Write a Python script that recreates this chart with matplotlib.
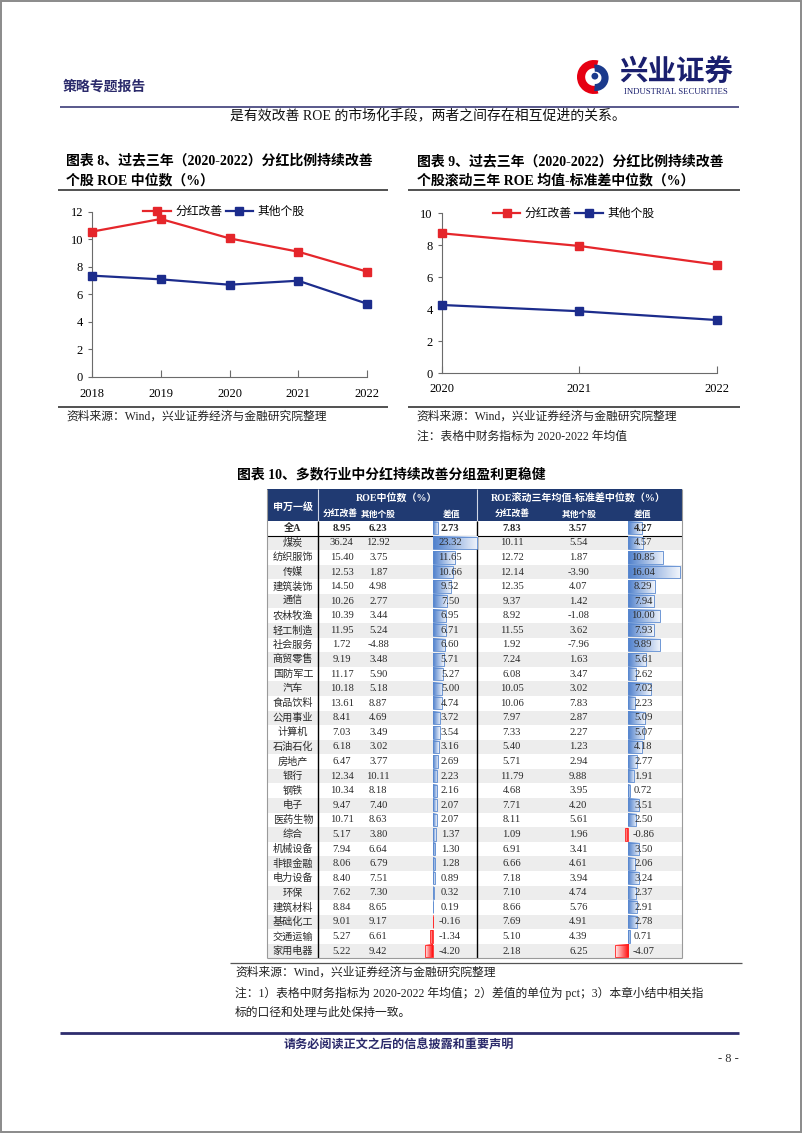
import matplotlib.pyplot as plt
import matplotlib.transforms as mtransforms
from matplotlib.colors import LinearSegmentedColormap
from matplotlib.patches import Rectangle, Wedge, Circle
import numpy as np

plt.rcParams['font.family'] = ['Liberation Serif', 'Noto Sans CJK SC', 'DejaVu Sans']

# ---- data ----
years8 = [2018, 2019, 2020, 2021, 2022]
div8 = [10.55, 11.47, 10.06, 9.09, 7.64]
oth8 = [7.35, 7.08, 6.69, 6.98, 5.31]

years9 = [2020, 2021, 2022]
div9 = [8.75, 7.96, 6.79]
oth9 = [4.27, 3.88, 3.33]

series_names = ['分红改善', '其他个股']

industries = ['全A', '煤炭', '纺织服饰', '传媒', '建筑装饰', '通信', '农林牧渔', '轻工制造',
              '社会服务', '商贸零售', '国防军工', '汽车', '食品饮料', '公用事业', '计算机',
              '石油石化', '房地产', '银行', '钢铁', '电子', '医药生物', '综合', '机械设备',
              '非银金融', '电力设备', '环保', '建筑材料', '基础化工', '交通运输', '家用电器']
roe_div = [8.95, 36.24, 15.40, 12.53, 14.50, 10.26, 10.39, 11.95, 1.72, 9.19, 11.17, 10.18,
           13.61, 8.41, 7.03, 6.18, 6.47, 12.34, 10.34, 9.47, 10.71, 5.17, 7.94, 8.06, 8.40,
           7.62, 8.84, 9.01, 5.27, 5.22]
roe_oth = [6.23, 12.92, 3.75, 1.87, 4.98, 2.77, 3.44, 5.24, -4.88, 3.48, 5.90, 5.18, 8.87,
           4.69, 3.49, 3.02, 3.77, 10.11, 8.18, 7.40, 8.63, 3.80, 6.64, 6.79, 7.51, 7.30,
           8.65, 9.17, 6.61, 9.42]
roe_diff = [2.73, 23.32, 11.65, 10.66, 9.52, 7.50, 6.95, 6.71, 6.60, 5.71, 5.27, 5.00, 4.74,
            3.72, 3.54, 3.16, 2.69, 2.23, 2.16, 2.07, 2.07, 1.37, 1.30, 1.28, 0.89, 0.32,
            0.19, -0.16, -1.34, -4.20]
stab_div = [7.83, 10.11, 12.72, 12.14, 12.35, 9.37, 8.92, 11.55, 1.92, 7.24, 6.08, 10.05,
            10.06, 7.97, 7.33, 5.40, 5.71, 11.79, 4.68, 7.71, 8.11, 1.09, 6.91, 6.66, 7.18,
            7.10, 8.66, 7.69, 5.10, 2.18]
stab_oth = [3.57, 5.54, 1.87, -3.90, 4.07, 1.42, -1.08, 3.62, -7.96, 1.63, 3.47, 3.02, 7.83,
            2.87, 2.27, 1.23, 2.94, 9.88, 3.95, 4.20, 5.61, 1.96, 3.41, 4.61, 3.94, 4.74,
            5.76, 4.91, 4.39, 6.25]
stab_diff = [4.27, 4.57, 10.85, 16.04, 8.29, 7.94, 10.00, 7.93, 9.89, 5.61, 2.62, 7.02, 2.23,
             5.09, 5.07, 4.18, 2.77, 1.91, 0.72, 3.51, 2.50, -0.86, 3.50, 2.06, 3.24, 2.37,
             2.91, 2.78, 0.71, -4.07]

# ---- styles ----
RED = '#E5262B'
BLUE = '#1C2C8C'
NAVY = '#203A72'
INK = '#2B2A6B'
AXC = '#6b6b6b'
TXT = '#2a2a2a'

W, H = 802, 1133
fig = plt.figure(figsize=(W / 100, H / 100), dpi=100)

# page axes in pixel coordinates
page = fig.add_axes([0, 0, 1, 1])
page.set_xlim(0, W)
page.set_ylim(H, 0)
page.axis('off')


def px_axes(x0, y0, x1, y1):
    return fig.add_axes([x0 / W, 1 - y1 / H, (x1 - x0) / W, (y1 - y0) / H])


def hline(y, x0, x1, color='#333333', lw=1.0):
    page.plot([x0, x1], [y, y], color=color, lw=lw, solid_capstyle='butt')


def vline(x, y0, y1, color='k', lw=1.0):
    page.plot([x, x], [y0, y1], color=color, lw=lw, solid_capstyle='butt')


# page border
page.add_patch(Rectangle((0.8, 0.8), W - 1.6, H - 1.6, fill=False, ec='#8a8a8a', lw=1.4))

# ---- header ----
page.text(63, 87, '策略专题报告', fontsize=10, fontweight='bold', color=INK, va='center')
logo = px_axes(577, 60, 611, 94)
logo.set_xlim(-1, 1)
logo.set_ylim(-1, 1)
logo.set_aspect('equal')
logo.axis('off')
logo.add_patch(Wedge((0, 0), 1.0, 75, 285, width=0.48, fc='#E60012', ec='none'))
logo.add_patch(Wedge((0.08, -0.05), 0.78, -95, 95, width=0.42, fc='#1B3A8C', ec='none'))
logo.add_patch(Circle((0.05, 0.05), 0.2, fc='#1B3A8C', ec='none'))
page.text(676, 72, '兴业证券', fontsize=20.5, fontweight='bold', color='#1A1F6E',
          ha='center', va='center', family=['Noto Sans CJK SC'])
page.text(676, 92, 'INDUSTRIAL SECURITIES', fontsize=6.3, color='#1A1F6E',
          ha='center', va='center')
hline(106.7, 60, 739, color='#3C3C78', lw=1.2)
page.text(428, 116, '是有效改善 ROE 的市场化手段，两者之间存在相互促进的关系。',
          fontsize=10, ha='center', va='center', color='#111111')


# ---- line charts ----
def line_chart(box, years, div, oth, ymax, xpad):
    ax = px_axes(*box)
    ax.patch.set_alpha(0)
    ax.plot(years, div, color=RED, lw=1.6, marker='s', ms=5.5, label=series_names[0],
            clip_on=False, zorder=3)
    ax.plot(years, oth, color=BLUE, lw=1.6, marker='s', ms=5.5, label=series_names[1],
            clip_on=False, zorder=3)
    ax.set_xlim(years[0], years[-1])
    ax.set_ylim(0, ymax)
    ax.set_xticks(years)
    ax.set_yticks(range(0, ymax + 1, 2))
    for s in ['top', 'right']:
        ax.spines[s].set_visible(False)
    for s in ['left', 'bottom']:
        ax.spines[s].set_color(AXC)
        ax.spines[s].set_linewidth(0.8)
    ax.tick_params(axis='x', direction='in', length=5, pad=xpad, labelsize=9, color=AXC)
    ax.tick_params(axis='y', direction='out', length=3, pad=3.5, labelsize=9, color=AXC)
    ax.legend(loc='center', bbox_to_anchor=(0.48, 1.0), ncol=2, frameon=False,
              handlelength=2.3, handletextpad=0.4, columnspacing=0.3,
              prop={'family': ['Noto Sans CJK SC'], 'size': 8.5}, borderaxespad=0)
    return ax


line_chart((92, 211.7, 367, 376.7), years8, div8, oth8, 12, 8)
line_chart((441.7, 213.3, 716.7, 373.3), years9, div9, oth9, 10, 7)

# chart titles and notes
page.text(66, 161, '图表 8、过去三年（2020-2022）分红比例持续改善', fontsize=10,
          fontweight='bold', va='center')
page.text(66, 180, '个股 ROE 中位数（%）', fontsize=10, fontweight='bold', va='center')
hline(189.5, 58, 388, lw=1.2)
hline(406.7, 58, 388, lw=1.2)
page.text(66, 416.5, '资料来源：Wind，兴业证券经济与金融研究院整理', fontsize=8.5,
          va='center', color='#222222')

page.text(416.7, 161.5, '图表 9、过去三年（2020-2022）分红比例持续改善', fontsize=10,
          fontweight='bold', va='center')
page.text(416.7, 180, '个股滚动三年 ROE 均值-标准差中位数（%）', fontsize=10,
          fontweight='bold', va='center')
hline(190, 408, 740, lw=1.2)
hline(406.7, 408, 740, lw=1.2)
page.text(416.7, 416.5, '资料来源：Wind，兴业证券经济与金融研究院整理', fontsize=8.5,
          va='center', color='#222222')
page.text(416.7, 437, '注：表格中财务指标为 2020-2022 年均值', fontsize=8.5,
          va='center', color='#222222')

# ---- table ----
page.text(237, 475, '图表 10、多数行业中分红持续改善分组盈利更稳健', fontsize=10,
          fontweight='bold', va='center')

TL, TR = 267, 682
HT, HB = 489, 521
ROW = 14.58
n = len(industries)
TB = HB + n * ROW

page.add_patch(Rectangle((TL, HT), TR - TL, HB - HT, fc=NAVY, ec='none'))
for i in range(n):
    if i % 2 == 1:
        page.add_patch(Rectangle((TL, HB + i * ROW), TR - TL, ROW, fc='#EDEDED', ec='none'))

vline(318.3, HT, HB, color='#cfd6e6', lw=0.8)
vline(477.3, HT, HB, color='#cfd6e6', lw=0.8)
vline(318.3, HB, TB, lw=1.0)
vline(477.3, HB, TB, lw=1.0)
hline(HB + ROW, TL, TR, color='k', lw=0.8)
vline(TL, HT, TB, color='#9a9a9a', lw=0.8)
vline(TR, HT, TB, color='#9a9a9a', lw=0.8)
hline(TB, TL, TR, color='#9a9a9a', lw=0.8)

hdr = dict(color='white', fontweight='bold', ha='center', va='center')
page.text(293, 506.7, '申万一级', fontsize=7.2, **hdr)
page.text(397, 499, 'ROE中位数（%）', fontsize=7.2, **hdr)
page.text(578, 499, 'ROE滚动三年均值-标准差中位数（%）', fontsize=7.2, **hdr)
sub_x = [340, 378, 452, 512, 579, 643]
sub_lab = ['分红改善', '其他个股', '差值', '分红改善', '其他个股', '差值']
for x, s in zip(sub_x, sub_lab):
    page.text(x, 514.3, s, fontsize=6.3, **hdr)

col_x = [341.7, 378.3, 511.7, 578.3]
for i, name in enumerate(industries):
    yc = HB + (i + 0.5) * ROW
    fw = 'bold' if i == 0 else 'normal'
    page.text(293, yc, name, fontsize=7.3, ha='center', va='center', fontweight=fw,
              color=TXT)
    for x, v in zip(col_x, [roe_div[i], roe_oth[i], stab_div[i], stab_oth[i]]):
        page.text(x, yc, f'{v:.2f}', fontsize=7.6, ha='center', va='center',
                  fontweight=fw, color=TXT)

grad = np.linspace(0, 1, 64).reshape(1, -1)
blue_cmap = LinearSegmentedColormap.from_list('pos', ['#4F80CC', '#F0F4FB'])
red_cmap = LinearSegmentedColormap.from_list('neg', ['#FF0A0A', '#FFF0F0'])


def bar_column(zero_px, px_per_unit, xmin, xmax, values, text_x):
    ax = px_axes(zero_px + xmin * px_per_unit, HB, zero_px + xmax * px_per_unit, TB)
    ax.patch.set_alpha(0)
    ax.axis('off')
    for i, v in enumerate(values):
        cmap = blue_cmap if v >= 0 else red_cmap
        ax.imshow(grad, cmap=cmap, extent=[0, v, i + 0.42, i - 0.42], aspect='auto',
                  interpolation='bilinear', zorder=1)
    edges = ['#5A89D0' if v >= 0 else '#FF2020' for v in values]
    ax.barh(range(len(values)), values, height=0.84, fc='none', ec=edges, lw=0.6, zorder=2)
    ax.set_xlim(xmin, xmax)
    ax.set_ylim(len(values) - 0.5, -0.5)
    trans = mtransforms.blended_transform_factory(page.transData, ax.transData)
    for i, v in enumerate(values):
        ax.text(text_x, i, f'{v:.2f}', transform=trans, fontsize=7.6, ha='center',
                va='center', fontweight='bold' if i == 0 else 'normal', color=TXT,
                zorder=3)


bar_column(433, 44 / 23.32, -4.4, 24.0, roe_diff, 450)
bar_column(628, 52 / 16.04, -4.3, 16.3, stab_diff, 643.3)

hline(962.5, 230, 742, color='#555555', lw=0.9)
page.text(235, 972.5, '资料来源：Wind，兴业证券经济与金融研究院整理', fontsize=8.5,
          va='center', color='#222222')
page.text(235, 993, '注：1）表格中财务指标为 2020-2022 年均值；2）差值的单位为 pct；3）本章小结中相关指',
          fontsize=8.5, va='center', color='#222222')
page.text(235, 1013, '标的口径和处理与此处保持一致。', fontsize=8.5, va='center',
          color='#222222')

# ---- footer ----
hline(1033.3, 60, 739, color='#2E2D6E', lw=2.0)
page.text(399, 1045, '请务必阅读正文之后的信息披露和重要声明', fontsize=8.7,
          fontweight='bold', color=INK, ha='center', va='center')
page.text(739, 1059, '- 8 -', fontsize=9, ha='right', va='center', color='#333333')

fig.savefig('out.png', dpi=100)
